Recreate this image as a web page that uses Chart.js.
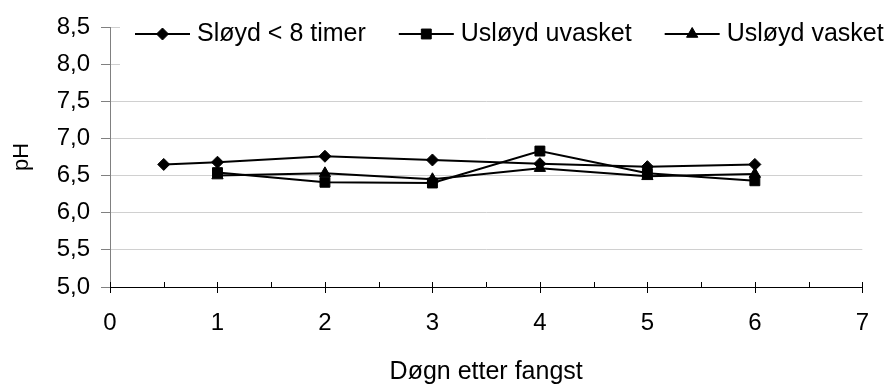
<!DOCTYPE html>
<html>
<head>
<meta charset="utf-8">
<script src="https://cdn.jsdelivr.net/npm/chart.js@4/dist/chart.umd.min.js"></script>
<style>
  html, body { margin: 0; padding: 0; background: #fff; }
  #wrap { width: 891px; height: 385px; }
</style>
</head>
<body>
<div id="wrap"><canvas id="c" width="891" height="385"></canvas></div>
<script>
// Days after catch (x) and measured pH for each treatment
const days = [0.5, 1, 2, 3, 4, 5, 6];
const sloydUnder8 = [6.65, 6.68, 6.76, 6.71, 6.66, 6.62, 6.65];
const usloydUvasket = [null, 6.54, 6.41, 6.40, 6.83, 6.53, 6.43];
const usloydVasket = [null, 6.50, 6.53, 6.45, 6.60, 6.49, 6.52];

const seriesNames = ['Sløyd < 8 timer', 'Usløyd uvasket', 'Usløyd vasket'];
const xTickValues = [0, 1, 2, 3, 4, 5, 6, 7];
const yTickValues = [5.0, 5.5, 6.0, 6.5, 7.0, 7.5, 8.0, 8.5];
const xTitle = 'Døgn etter fangst';
const yTitle = 'pH';

const FONT = "'Liberation Sans', Arial, sans-serif";

function toPoints(values) {
  return days.map((d, i) => ({ x: d, y: values[i] })).filter(p => p.y !== null);
}

// Line-and-marker legend drawn on a white panel over the top of the plot
const lineLegend = {
  id: 'lineLegend',
  afterDraw(chart, args, opts) {
    const ctx = chart.ctx;
    ctx.save();
    ctx.fillStyle = '#fff';
    ctx.fillRect(opts.boxLeft, opts.boxTop, opts.boxRight - opts.boxLeft, opts.boxBottom - opts.boxTop);
    ctx.font = opts.font;
    ctx.textBaseline = 'middle';
    ctx.textAlign = 'left';
    let x = opts.left;
    chart.data.datasets.forEach(ds => {
      ctx.strokeStyle = ds.borderColor;
      ctx.lineWidth = ds.borderWidth;
      ctx.beginPath();
      ctx.moveTo(x, opts.y);
      ctx.lineTo(x + opts.lineLength, opts.y);
      ctx.stroke();
      ctx.fillStyle = ds.pointBackgroundColor;
      ctx.strokeStyle = ds.pointBorderColor;
      ctx.lineWidth = ds.pointBorderWidth;
      Chart.helpers.drawPoint(ctx, {
        pointStyle: ds.pointStyle, radius: ds.pointRadius,
        borderWidth: ds.pointBorderWidth, rotation: 0
      }, x + opts.lineLength / 2, opts.y);
      ctx.fillStyle = '#000';
      const tx = x + opts.lineLength + opts.textGap;
      ctx.fillText(ds.label, tx, opts.y);
      x = tx + ctx.measureText(ds.label).width + opts.itemGap;
    });
    ctx.restore();
  }
};

// Major tick marks crossing the x axis, minor ones inside the plot
const xTickMarks = {
  id: 'xTickMarks',
  afterDraw(chart) {
    const ctx = chart.ctx;
    const xs = chart.scales.x;
    const y0 = Math.round(chart.chartArea.bottom);
    ctx.save();
    ctx.strokeStyle = '#000';
    ctx.lineWidth = 1;
    ctx.beginPath();
    xTickValues.forEach((v, i) => {
      const px = Math.round(xs.getPixelForValue(v)) + 0.5;
      ctx.moveTo(px, y0 - 5);
      ctx.lineTo(px, y0 + 6);
      if (i < xTickValues.length - 1) {
        const mx = Math.round(xs.getPixelForValue(v + 0.5)) + 0.5;
        ctx.moveTo(mx, y0 - 5);
        ctx.lineTo(mx, y0);
      }
    });
    ctx.stroke();
    ctx.restore();
  }
};

function lineSeries(label, values, style, radius, order) {
  return {
    label: label,
    data: toPoints(values),
    borderColor: '#000',
    backgroundColor: '#000',
    borderWidth: 2,
    pointStyle: style,
    pointRadius: radius,
    pointBackgroundColor: '#000',
    pointBorderColor: '#000',
    pointBorderWidth: 1,
    tension: 0,
    order: order
  };
}

new Chart(document.getElementById('c'), {
  type: 'line',
  data: {
    datasets: [
      lineSeries(seriesNames[0], sloydUnder8, 'rectRot', 6, 3),
      lineSeries(seriesNames[1], usloydUvasket, 'rect', 7, 2),
      lineSeries(seriesNames[2], usloydVasket, 'triangle', 6.5, 1)
    ]
  },
  options: {
    responsive: false,
    animation: false,
    events: [],
    layout: { padding: { left: 0, right: 9, top: 27, bottom: 0 } },
    plugins: {
      legend: { display: false },
      tooltip: { enabled: false },
      lineLegend: {
        boxLeft: 120, boxRight: 891, boxTop: 12, boxBottom: 72,
        left: 135, y: 34, lineLength: 55, textGap: 7, itemGap: 33,
        font: "25px " + FONT
      }
    },
    scales: {
      x: {
        type: 'linear',
        min: 0, max: 7,
        afterBuildTicks: s => { s.ticks = xTickValues.map(v => ({ value: v })); },
        afterFit: s => { s.height = 98; },
        grid: { drawOnChartArea: false, drawTicks: false },
        border: { color: '#000', width: 1 },
        ticks: {
          color: '#000', padding: 22, maxRotation: 0, autoSkip: false,
          font: { family: FONT, size: 24 },
          callback: v => String(v)
        },
        title: {
          display: true, text: xTitle, color: '#000',
          font: { family: FONT, size: 25 },
          padding: { top: 0, bottom: -2 }
        }
      },
      y: {
        type: 'linear',
        min: 5, max: 8.5,
        afterBuildTicks: s => { s.ticks = yTickValues.map(v => ({ value: v })); },
        afterFit: s => { s.width = 110; },
        grid: {
          color: c => (c.tick && c.tick.value === 5 ? 'rgba(0,0,0,0)' : '#d0d0d0'),
          tickColor: '#808080',
          tickLength: 9,
          lineWidth: 1
        },
        border: { color: '#808080', width: 1 },
        ticks: {
          color: '#000', padding: 11,
          font: { family: FONT, size: 24 },
          callback: v => v.toFixed(1).replace('.', ',')
        },
        title: {
          display: true, text: yTitle, color: '#000',
          font: { family: FONT, size: 22 },
          padding: { top: 9, bottom: 0 }
        }
      }
    }
  },
  plugins: [lineLegend, xTickMarks]
});
</script>
</body>
</html>
